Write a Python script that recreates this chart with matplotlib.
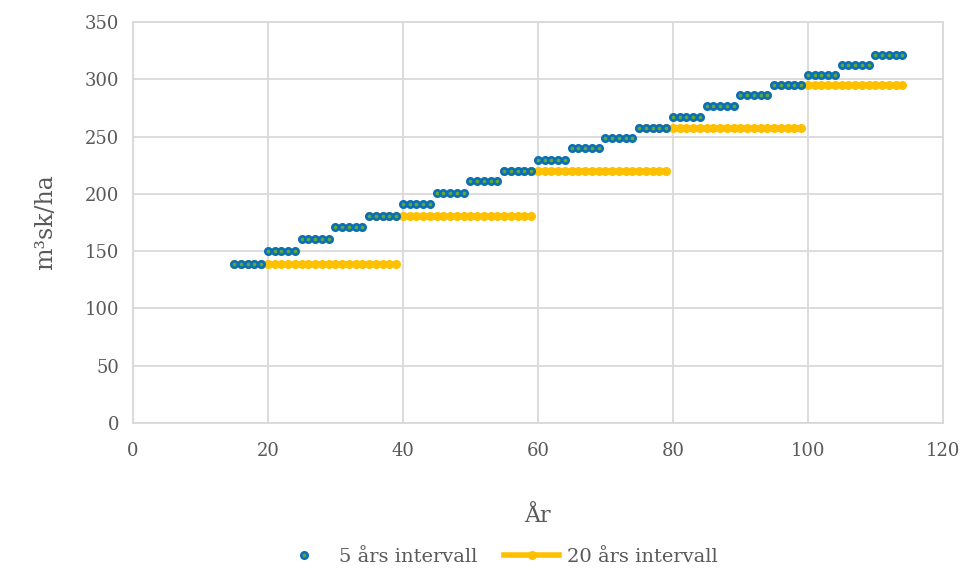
import numpy as np
import matplotlib.pyplot as plt

plt.rcParams['font.family'] = ['DejaVu Serif']

# 5 års intervall: value per 5-year block, starting at year 15
blocks_5 = [15, 20, 25, 30, 35, 40, 45, 50, 55, 60, 65, 70, 75, 80, 85, 90, 95, 100, 105, 110]
values_5 = [139, 150, 161, 171, 181, 191, 201, 211, 220, 230, 240, 249, 258, 267, 277, 286, 295, 304, 313, 321]

# 20 års intervall: (start year, end year, value)
starts_20 = [15, 35, 55, 75, 95]
ends_20 = [39, 59, 79, 99, 114]
values_20 = [139, 181, 220, 258, 295]

blue = '#0a6fb5'
green = '#5fa83a'
yellow = '#ffc000'
grid = '#d9d9d9'
txt = '#595959'

fig = plt.figure(figsize=(9.65, 5.69), dpi=100)
ax = fig.add_axes([0.1378, 0.2566, 0.8392, 0.7044])

for s, e, v in zip(starts_20, ends_20, values_20):
    yrs = np.arange(s, e + 1)
    ln20, = ax.plot(yrs, np.full(len(yrs), v), color=yellow, lw=4, marker='o', ms=5.5,
                    mec=yellow, mfc=yellow, zorder=2)

x5 = []
y5 = []
for b, v in zip(blocks_5, values_5):
    for k in range(5):
        x5.append(b + k)
        y5.append(v)
ln5, = ax.plot(x5, y5, ls='none', marker='o', ms=4.6, mfc=green, mec=blue, mew=1.9, zorder=3)

ax.set_xlim(0, 120)
ax.set_ylim(0, 350)
ax.set_xticks(range(0, 121, 20))
ax.set_yticks(range(0, 351, 50))
ax.grid(True, color=grid, lw=1.3)
ax.set_axisbelow(True)
for sp in ax.spines.values():
    sp.set_color(grid)
    sp.set_linewidth(1.3)
ax.tick_params(length=0, labelsize=13, colors=txt, pad=10)
ax.tick_params(axis='x', pad=14)

ax.set_xlabel('År', fontsize=16, color=txt, labelpad=32)
ax.set_ylabel('m³sk/ha', fontsize=17, color=txt, labelpad=20)

fig.legend([ln5, ln20], ['5 års intervall', '20 års intervall'], loc='lower center',
           bbox_to_anchor=(0.515, -0.025), ncol=2, frameon=False, fontsize=14,
           labelcolor=txt, handlelength=2.8, columnspacing=1.4, handletextpad=0.4)

fig.savefig('out.png', dpi=100)
